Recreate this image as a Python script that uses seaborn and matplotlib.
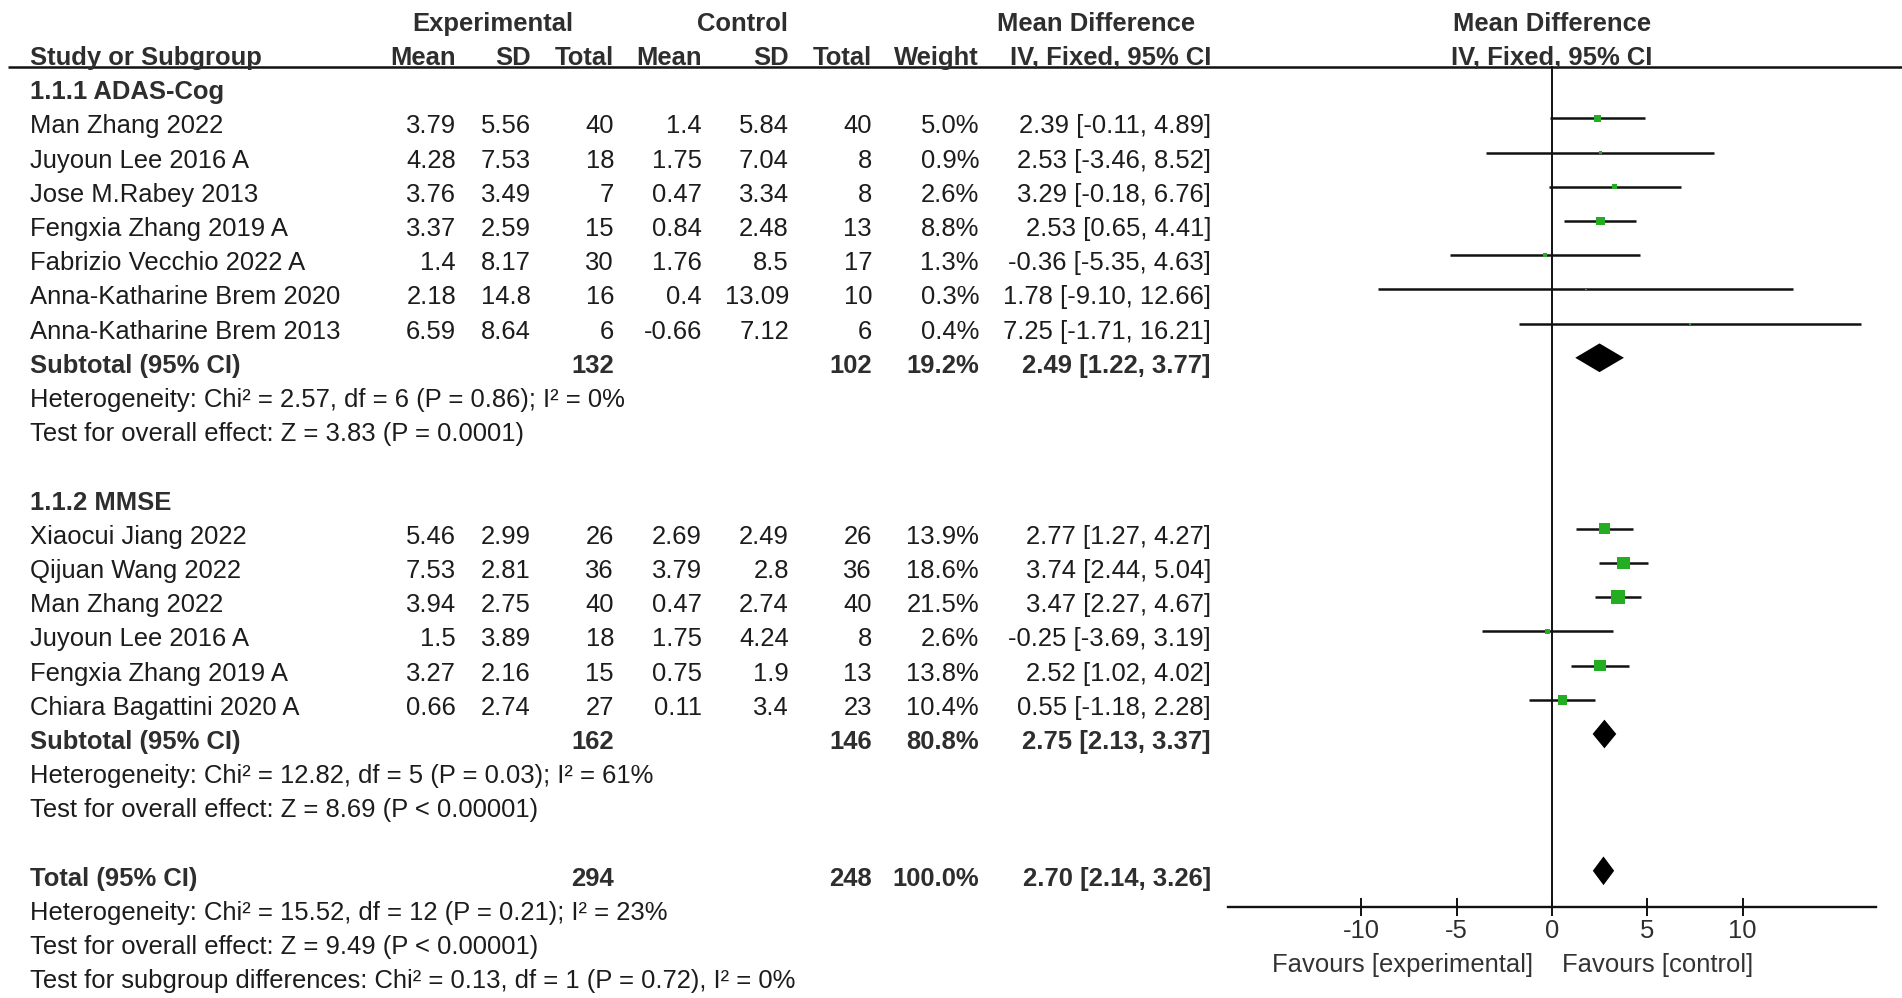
import numpy as np
import pandas as pd
import matplotlib
matplotlib.use("Agg")
import matplotlib.pyplot as plt
import seaborn as sns
from matplotlib import font_manager as fm

# ---------------- data ----------------
g1_studies = ["Man Zhang 2022", "Juyoun Lee 2016 A", "Jose M.Rabey 2013", "Fengxia Zhang 2019 A",
              "Fabrizio Vecchio 2022 A", "Anna-Katharine Brem 2020", "Anna-Katharine Brem 2013"]
g1_exp_mean = [3.79, 4.28, 3.76, 3.37, 1.4, 2.18, 6.59]
g1_exp_sd = [5.56, 7.53, 3.49, 2.59, 8.17, 14.8, 8.64]
g1_exp_n = [40, 18, 7, 15, 30, 16, 6]
g1_ctl_mean = [1.4, 1.75, 0.47, 0.84, 1.76, 0.4, -0.66]
g1_ctl_sd = [5.84, 7.04, 3.34, 2.48, 8.5, 13.09, 7.12]
g1_ctl_n = [40, 8, 8, 13, 17, 10, 6]
g1_weight = [5.0, 0.9, 2.6, 8.8, 1.3, 0.3, 0.4]
g1_md = [2.39, 2.53, 3.29, 2.53, -0.36, 1.78, 7.25]
g1_lo = [-0.11, -3.46, -0.18, 0.65, -5.35, -9.10, -1.71]
g1_hi = [4.89, 8.52, 6.76, 4.41, 4.63, 12.66, 16.21]

g2_studies = ["Xiaocui Jiang 2022", "Qijuan Wang 2022", "Man Zhang 2022", "Juyoun Lee 2016 A",
              "Fengxia Zhang 2019 A", "Chiara Bagattini 2020 A"]
g2_exp_mean = [5.46, 7.53, 3.94, 1.5, 3.27, 0.66]
g2_exp_sd = [2.99, 2.81, 2.75, 3.89, 2.16, 2.74]
g2_exp_n = [26, 36, 40, 18, 15, 27]
g2_ctl_mean = [2.69, 3.79, 0.47, 1.75, 0.75, 0.11]
g2_ctl_sd = [2.49, 2.8, 2.74, 4.24, 1.9, 3.4]
g2_ctl_n = [26, 36, 40, 8, 13, 23]
g2_weight = [13.9, 18.6, 21.5, 2.6, 13.8, 10.4]
g2_md = [2.77, 3.74, 3.47, -0.25, 2.52, 0.55]
g2_lo = [1.27, 2.44, 2.27, -3.69, 1.02, -1.18]
g2_hi = [4.27, 5.04, 4.67, 3.19, 4.02, 2.28]

sub_labels = ["Subtotal (95% CI)", "Subtotal (95% CI)", "Total (95% CI)"]
sub_exp_n = [132, 162, 294]
sub_ctl_n = [102, 146, 248]
sub_weight = [19.2, 80.8, 100.0]
sub_md = [2.49, 2.75, 2.70]
sub_lo = [1.22, 2.13, 2.14]
sub_hi = [3.77, 3.37, 3.26]

group_titles = ["1.1.1 ADAS-Cog", "1.1.2 MMSE"]
g1_notes = ["Heterogeneity: Chi\u00b2 = 2.57, df = 6 (P = 0.86); I\u00b2 = 0%",
            "Test for overall effect: Z = 3.83 (P = 0.0001)"]
g2_notes = ["Heterogeneity: Chi\u00b2 = 12.82, df = 5 (P = 0.03); I\u00b2 = 61%",
            "Test for overall effect: Z = 8.69 (P < 0.00001)"]
total_notes = ["Heterogeneity: Chi\u00b2 = 15.52, df = 12 (P = 0.21); I\u00b2 = 23%",
               "Test for overall effect: Z = 9.49 (P < 0.00001)",
               "Test for subgroup differences: Chi\u00b2 = 0.13, df = 1 (P = 0.72), I\u00b2 = 0%"]
x_ticks = [-10, -5, 0, 5, 10]
favours = ["Favours [experimental]", "Favours [control]"]

# ---------------- layout ----------------
W, H = 1902, 998
sns.set_style("white")


def has_font(name):
    try:
        fm.findfont(fm.FontProperties(family=name), fallback_to_default=False)
        return True
    except Exception:
        return False


family = "Liberation Sans Narrow" if has_font("Liberation Sans Narrow") else "Liberation Sans"
plt.rcParams["font.family"] = [family, "DejaVu Sans"]

fig = plt.figure(figsize=(W / 100, H / 100), dpi=100)
fig.patch.set_facecolor("white")

# row -> pixel mapping (row index k; k=0 is first subgroup title)
row0_px, row_h = 90.0, 34.2
ytop = -row0_px / row_h
ybot = (H - row0_px) / row_h

ax_t = fig.add_axes([0, 0, 1, 1])
ax_t.set_xlim(0, W)
ax_t.set_ylim(ybot, ytop)
ax_t.axis("off")

# font size from target text width
renderer = fig.canvas.get_renderer()
probe = ax_t.text(0, 0, g1_notes[0], fontsize=10)
bw = probe.get_window_extent(renderer).width
probe.remove()
FS = 10 * 595 / bw
cap_px = 0.716 * FS * 100 / 72
base_off = (cap_px / 2) / row_h  # baseline offset so that cap-centre sits on row

TXT = "#1c1c1c"
HDR = "#2e2e2e"

# rows
g1_rows = list(range(1, 1 + len(g1_studies)))
g2_rows = list(range(13, 13 + len(g2_studies)))
sub_rows = [8, 19, 23]
title_rows = [0, 12]

# columns (right edges in px)
x_study = 30
c_em, c_esd, c_en = 456, 531, 614
c_cm, c_csd, c_cn = 702, 789, 872
c_w, c_ci = 979, 1211
x_zero_px = 1552


def put(x, y, s, ha="right", bold=False, color=TXT):
    ax_t.text(x, y + base_off, s, ha=ha, va="baseline", fontsize=FS,
              fontweight="bold" if bold else "normal", color=color)


# headers
put(493, -2, "Experimental", ha="center", bold=True, color=HDR)
put(743, -2, "Control", ha="center", bold=True, color=HDR)
put(1096, -2, "Mean Difference", ha="center", bold=True, color=HDR)
put(x_zero_px, -2, "Mean Difference", ha="center", bold=True, color=HDR)
put(x_study, -1, "Study or Subgroup", ha="left", bold=True, color=HDR)
for x, s in [(c_em, "Mean"), (c_esd, "SD"), (c_en, "Total"), (c_cm, "Mean"), (c_csd, "SD"),
             (c_cn, "Total"), (c_w, "Weight"), (c_ci, "IV, Fixed, 95% CI")]:
    put(x, -1, s, bold=True, color=HDR)
put(x_zero_px, -1, "IV, Fixed, 95% CI", ha="center", bold=True, color=HDR)
header_row = -0.68
ax_t.hlines(header_row, 8, W, color="#111111", lw=1.8)


def ci_str(m, l, h):
    return f"{m:.2f} [{l:.2f}, {h:.2f}]"


for t, r in zip(group_titles, title_rows):
    put(x_study, r, t, ha="left", bold=True, color=HDR)

for rows, st, em, esd, en, cm, csd, cn, w, md, lo, hi in [
    (g1_rows, g1_studies, g1_exp_mean, g1_exp_sd, g1_exp_n, g1_ctl_mean, g1_ctl_sd, g1_ctl_n,
     g1_weight, g1_md, g1_lo, g1_hi),
    (g2_rows, g2_studies, g2_exp_mean, g2_exp_sd, g2_exp_n, g2_ctl_mean, g2_ctl_sd, g2_ctl_n,
     g2_weight, g2_md, g2_lo, g2_hi)]:
    for i, r in enumerate(rows):
        put(x_study, r, st[i], ha="left")
        put(c_em, r, str(em[i]))
        put(c_esd, r, str(esd[i]))
        put(c_en, r, str(en[i]))
        put(c_cm, r, str(cm[i]))
        put(c_csd, r, str(csd[i]))
        put(c_cn, r, str(cn[i]))
        put(c_w, r, f"{w[i]:.1f}%")
        put(c_ci, r, ci_str(md[i], lo[i], hi[i]))

for i, r in enumerate(sub_rows):
    put(x_study, r, sub_labels[i], ha="left", bold=True, color=HDR)
    put(c_en, r, str(sub_exp_n[i]), bold=True, color=HDR)
    put(c_cn, r, str(sub_ctl_n[i]), bold=True, color=HDR)
    put(c_w, r, f"{sub_weight[i]:.1f}%", bold=True, color=HDR)
    put(c_ci, r, ci_str(sub_md[i], sub_lo[i], sub_hi[i]), bold=True, color=HDR)

for j, s in enumerate(g1_notes):
    put(x_study, 9 + j, s, ha="left")
for j, s in enumerate(g2_notes):
    put(x_study, 20 + j, s, ha="left")
for j, s in enumerate(total_notes):
    put(x_study, 24 + j, s, ha="left")

# ---------------- forest plot ----------------
px_per_unit = 19.07
x0_px = x_zero_px - 17 * px_per_unit
x1_px = x_zero_px + 17 * px_per_unit
ax = fig.add_axes([x0_px / W, 0, (x1_px - x0_px) / W, 1])
ax.set_facecolor("none")
ax.set_xlim(-17, 17)
mark_shift = 0.17  # graphics sit slightly above the text centre line
ax.set_ylim(ybot + mark_shift, ytop + mark_shift)

df = pd.DataFrame({
    "row": g1_rows + g2_rows,
    "md": g1_md + g2_md,
    "lo": g1_lo + g2_lo,
    "hi": g1_hi + g2_hi,
    "weight": g1_weight + g2_weight,
})

ax.hlines(df["row"], df["lo"], df["hi"], color="#111111", lw=1.8, zorder=2)
sns.scatterplot(data=df, x="md", y="row", size="weight", sizes=(0, 100),
                size_norm=(0, max(df["weight"])), marker="s", color="#23ad23",
                edgecolor="none", linewidth=0, legend=False, ax=ax, zorder=3)

for r, m, l, h in zip(sub_rows, sub_md, sub_lo, sub_hi):
    ax.fill([l, m, h, m], [r, r - 0.42, r, r + 0.42], color="black", lw=0, zorder=3)

axis_row = 23.88 + mark_shift
for side in ["top", "right"]:
    ax.spines[side].set_visible(False)
ax.spines["left"].set_position(("data", 0))
ax.spines["left"].set_bounds(header_row + mark_shift, axis_row)
ax.spines["left"].set_linewidth(1.4)
ax.spines["left"].set_color("#111111")
ax.spines["bottom"].set_position(("data", axis_row))
ax.spines["bottom"].set_bounds(-17, 17)
ax.spines["bottom"].set_linewidth(1.7)
ax.spines["bottom"].set_color("#111111")
ax.set_yticks([])
ax.set_xticks(x_ticks)
ax.set_xticklabels([str(t) for t in x_ticks])
ax.tick_params(axis="x", bottom=True, direction="inout", length=12.5, width=1.4,
               color="#111111", pad=2.5, labelsize=FS, labelcolor="#2e2e2e")
ax.set_xlabel("")
ax.set_ylabel("")

fav_row = 25.53 + mark_shift + base_off
ax.text(-1.0, fav_row, favours[0], ha="right", va="baseline", fontsize=FS, color="#333333")
ax.text(0.55, fav_row, favours[1], ha="left", va="baseline", fontsize=FS, color="#333333")

fig.savefig("out.png", dpi=100, facecolor="white")
